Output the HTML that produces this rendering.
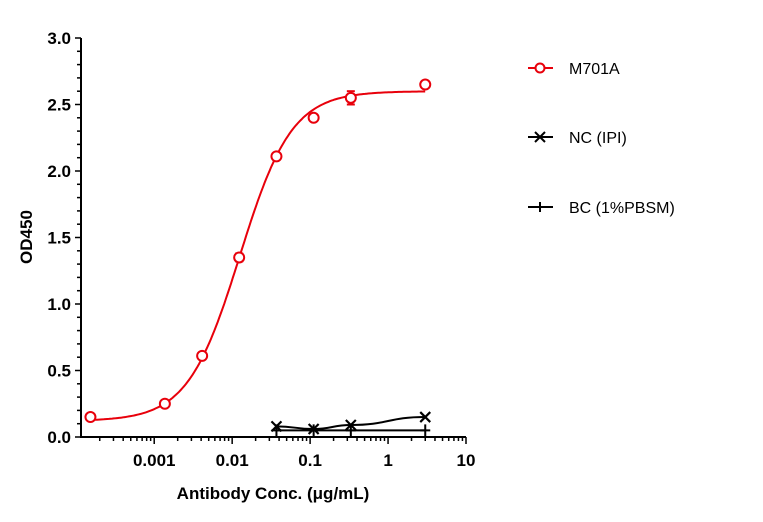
<!DOCTYPE html>
<html><head><meta charset="utf-8"><style>
body{margin:0;background:#fff;}
svg text{font-family:"Liberation Sans",Arial,sans-serif;}
</style></head><body>
<svg id="chart" width="763" height="517" viewBox="0 0 763 517">
<g id="axes"></g><g id="series"></g><g id="legend"></g>
</svg>
<script>
const concs = [0.000152, 0.00137, 0.00412, 0.0123, 0.037, 0.111, 0.333, 3];
const m701aValues = [0.15, 0.25, 0.61, 1.35, 2.11, 2.40, 2.55, 2.65];
const m701aErrors = [0, 0, 0, 0.03, 0, 0, 0.05, 0];
const ctrlConcs = [0.037, 0.111, 0.333, 3];
const ncValues = [0.08, 0.06, 0.09, 0.15];
const bcValues = [0.05, 0.05, 0.05, 0.05];
const fitParams = [0.12, 2.6, 0.0125, 1.3]; // bottom, top, ec50, hill
const yTicks = [0, 0.5, 1.0, 1.5, 2.0, 2.5, 3.0];
const xTickLabels = ["0.001", "0.01", "0.1", "1", "10"];
const xTickValues = [0.001, 0.01, 0.1, 1, 10];

const NS = "http://www.w3.org/2000/svg";
const X0 = 81, X1 = 466, Y0 = 437, Y1 = 38;
const LMIN = Math.log10(1.15e-4), LMAX = 1;
const xs = v => X0 + (Math.log10(v) - LMIN) / (LMAX - LMIN) * (X1 - X0);
const ys = v => Y0 - v / 3 * (Y0 - Y1);
function el(tag, attrs, parent) { const e = document.createElementNS(NS, tag); for (const k in attrs) e.setAttribute(k, attrs[k]); parent.appendChild(e); return e; }
const ax = document.getElementById('axes'), sr = document.getElementById('series'), lg = document.getElementById('legend');

// y axis
let yl = el('line', {x1: X0, y1: Y1, x2: X0, y2: Y0 + 1, stroke: '#000', 'stroke-width': 2}, ax);


for (let i = 0; i <= 30; i++) {
  const v = i / 10, major = i % 5 === 0;
  el('line', {x1: X0 - (major ? 6 : 4), x2: X0, y1: ys(v), y2: ys(v), stroke: '#000', 'stroke-width': 1.5}, ax);
}
yTicks.forEach(v => {
  const t = el('text', {x: X0 - 10, y: ys(v) + 6, 'text-anchor': 'end', 'font-size': 17, 'font-weight': 'bold'}, ax);
  t.textContent = v.toFixed(1);
  
  
});
let yt = el('text', {x: 32, y: 237, 'text-anchor': 'middle', 'font-size': 17, 'font-weight': 'bold', transform: 'rotate(-90 32 237)'}, ax);
yt.textContent = 'OD450';



// x axis
let xl = el('line', {x1: X0 - 1, y1: Y0, x2: X1, y2: Y0, stroke: '#000', 'stroke-width': 2}, ax);


for (let d = -4; d <= 0; d++) for (let m = 1; m <= 9; m++) {
  const v = m * Math.pow(10, d);
  if (Math.log10(v) < LMIN) continue;
  el('line', {x1: xs(v), x2: xs(v), y1: Y0, y2: Y0 + (m === 1 ? 7 : 4), stroke: '#000', 'stroke-width': 1.5}, ax);
}
el('line', {x1: xs(10), x2: xs(10), y1: Y0, y2: Y0 + 7, stroke: '#000', 'stroke-width': 1.5}, ax);
xTickValues.forEach((v, i) => {
  const t = el('text', {x: xs(v), y: Y0 + 29, 'text-anchor': 'middle', 'font-size': 17, 'font-weight': 'bold'}, ax);
  t.textContent = xTickLabels[i];
  
  
});
let xt = el('text', {x: 273, y: 499, 'text-anchor': 'middle', 'font-size': 17, 'font-weight': 'bold'}, ax);
xt.textContent = 'Antibody Conc. (μg/mL)';



// M701A fit curve
const [B, T, EC, H] = fitParams;
let pts = [];
for (let i = 0; i <= 200; i++) {
  const lx = Math.log10(concs[0]) + (Math.log10(concs[concs.length - 1]) - Math.log10(concs[0])) * i / 200;
  const v = Math.pow(10, lx);
  const y = B + (T - B) / (1 + Math.pow(EC / v, H));
  pts.push(xs(v).toFixed(1) + ',' + ys(y).toFixed(1));
}
let fc = el('polyline', {points: pts.join(' '), fill: 'none', stroke: '#e8000b', 'stroke-width': 2}, sr);


concs.forEach((c, i) => {
  const x = xs(c), y = ys(m701aValues[i]), e = m701aErrors[i];
  if (e > 0) {
    el('line', {x1: x, x2: x, y1: ys(m701aValues[i] + e), y2: ys(m701aValues[i] - e), stroke: '#e8000b', 'stroke-width': 2}, sr);
    el('line', {x1: x - 4, x2: x + 4, y1: ys(m701aValues[i] + e), y2: ys(m701aValues[i] + e), stroke: '#e8000b', 'stroke-width': 2}, sr);
    el('line', {x1: x - 4, x2: x + 4, y1: ys(m701aValues[i] - e), y2: ys(m701aValues[i] - e), stroke: '#e8000b', 'stroke-width': 2}, sr);
  }
  const p = el('circle', {cx: x, cy: y, r: 5, fill: '#fff', stroke: '#e8000b', 'stroke-width': 2}, sr);
  
  
});

// NC smooth line
function smoothPath(xv, yv) {
  const P = xv.map((c, i) => [xs(c), ys(yv[i])]);
  let d = 'M' + P[0][0] + ',' + P[0][1];
  for (let i = 1; i < P.length; i++) {
    const mx = (P[i - 1][0] + P[i][0]) / 2;
    d += ' C' + mx + ',' + P[i - 1][1] + ' ' + mx + ',' + P[i][1] + ' ' + P[i][0] + ',' + P[i][1];
  }
  return d;
}
let nl = el('path', {d: smoothPath(ctrlConcs, ncValues), fill: 'none', stroke: '#000', 'stroke-width': 2}, sr);


ctrlConcs.forEach((c, i) => {
  const x = xs(c), y = ys(ncValues[i]);
  const g = el('path', {d: `M${x-5},${y-5}L${x+5},${y+5}M${x-5},${y+5}L${x+5},${y-5}`, stroke: '#000', 'stroke-width': 2.2}, sr);
  
  
});
let bl = el('path', {d: smoothPath(ctrlConcs, bcValues), fill: 'none', stroke: '#000', 'stroke-width': 2}, sr);


ctrlConcs.forEach((c, i) => {
  const x = xs(c), y = ys(bcValues[i]);
  const g = el('path', {d: `M${x-5},${y}L${x+5},${y}M${x},${y-6}L${x},${y+6}`, stroke: '#000', 'stroke-width': 2}, sr);
  
  
});

// legend
const legendItems = [['M701A', '#e8000b', 'o', 68], ['NC (IPI)', '#000', 'x', 137], ['BC (1%PBSM)', '#000', '+', 207]];
legendItems.forEach(([label, col, m, y]) => {
  const g = el('g', {}, lg);
  
  
  el('line', {x1: 528, x2: 553, y1: y, y2: y, stroke: col, 'stroke-width': 2}, g);
  if (m === 'o') el('circle', {cx: 540, cy: y, r: 4.5, fill: '#fff', stroke: col, 'stroke-width': 2}, g);
  if (m === 'x') el('path', {d: `M535,${y-5}L545,${y+5}M535,${y+5}L545,${y-5}`, stroke: col, 'stroke-width': 2}, g);
  if (m === '+') el('path', {d: `M540,${y-5}L540,${y+5}`, stroke: col, 'stroke-width': 2}, g);
  const t = el('text', {x: 569, y: y + 6, 'font-size': 16}, g);
  t.textContent = label;
});
</script>
</body></html>
